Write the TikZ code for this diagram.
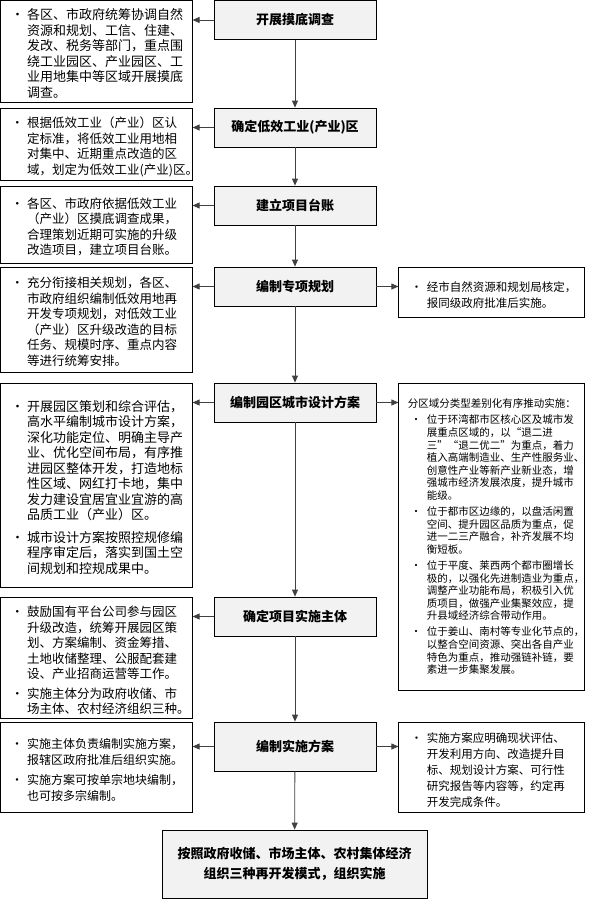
\documentclass[tikz,border=0pt]{standalone}
\usepackage{fontspec}
\setmainfont{Noto Sans CJK SC}
\usepackage{enumitem}
\setlist[itemize]{label=\hspace*{3pt}\textbullet, align=left, leftmargin=19pt,
  labelwidth=19pt, labelsep=0pt, rightmargin=-10pt, nosep, itemsep=4pt}
\usetikzlibrary{arrows.meta, positioning}

\begin{document}
\begin{tikzpicture}[x=1pt, y=-1pt,
stage/.style = {draw, line width=0.8pt, fill=black!5, minimum width=162pt, minimum height=39pt,
                align=center, font=\fontsize{13}{15}\selectfont\bfseries},
result/.style = {stage, minimum width=265pt, minimum height=68pt,
                font=\fontsize{13}{20}\selectfont\bfseries},
note/.style = {draw, line width=0.8pt, text width=176pt, inner xsep=8pt, inner ysep=4pt,
               font=\fontsize{12.5}{15.5}\selectfont},
big/.style = {font=\fontsize{13}{15.5}\selectfont},
rnote/.style = {note, text width=168pt, inner xsep=9pt, font=\fontsize{11.5}{16}\selectfont},
arr/.style = {draw=black!75, line width=0.8pt, -{Triangle[length=7pt, width=6pt]}}
                        ]
\useasboundingbox (0,0) rectangle (594,899);
% main column
\node (c1) [stage] at (295,20)    {开展摸底调查};
\node (c2) [stage] at (295,127.5) {确定低效工业(产业)区};
\node (c3) [stage] at (295,205.5) {建立项目台账};
\node (c4) [stage] at (295,286.5) {编制专项规划};
\node (c5) [stage] at (295,402.5) {编制园区城市设计方案};
\node (c6) [stage] at (295,616.5) {确定项目实施主体};
\node (c7) [stage, minimum height=49pt] at (295,746.5) {编制实施方案};
\node (res) [result] at (294.5,864) {按照政府收储、市场主体、农村集体经济\\组织三种再开发模式，组织实施};
%
\node (l1) [note, big, minimum height=100pt, left=21pt of c1.north west, anchor=north east]
  {\begin{itemize}\item 各区、市政府统筹协调自然\\资源和规划、工信、住建、\\发改、税务等部门，重点围\\绕工业园区、产业园区、工\\业用地集中等区域开展摸底\\调查。\end{itemize}};
\node (l2) [note, minimum height=71pt, left=21pt of c2.north west, anchor=north east]
  {\begin{itemize}\item 根据低效工业（产业）区认\\定标准，将低效工业用地相\\对集中、近期重点改造的区\\域，划定为低效工业(产业)区。\end{itemize}};
\node (l3) [note, minimum height=77pt, left=21pt of c3.north west, anchor=north east]
  {\begin{itemize}\item 各区、市政府依据低效工业\\（产业）区摸底调查成果，\\合理策划近期可实施的升级\\改造项目，建立项目台账。\end{itemize}};
\node (l4) [note, minimum height=105pt, left=21pt of c4.north west, anchor=north east]
  {\begin{itemize}\item 充分衔接相关规划，各区、\\市政府组织编制低效用地再\\开发专项规划，对低效工业\\（产业）区升级改造的目标\\任务、规模时序、重点内容\\等进行统筹安排。\end{itemize}};
\node (l5) [note, big, minimum height=204pt, left=21pt of c5.north west, anchor=north east]
  {\begin{itemize}[itemsep=7pt]
   \item 开展园区策划和综合评估，\\高水平编制城市设计方案，\\深化功能定位、明确主导产\\业、优化空间布局，有序推\\进园区整体开发，打造地标\\性区域、网红打卡地，集中\\发力建设宜居宜业宜游的高\\品质工业（产业）区。
   \item 城市设计方案按照控规修编\\程序审定后，落实到国土空\\间规划和控规成果中。\end{itemize}};
\node (l6) [note, minimum height=116pt, left=21pt of c6.north west, anchor=north east]
  {\begin{itemize}
   \item 鼓励国有平台公司参与园区\\升级改造，统筹开展园区策\\划、方案编制、资金筹措、\\土地收储整理、公服配套建\\设、产业招商运营等工作。
   \item 实施主体分为政府收储、市\\场主体、农村经济组织三种。\end{itemize}};
\node (l7) [note, minimum height=90pt, font=\fontsize{12}{16}\selectfont,
            left=21pt of c7.north west, anchor=north east]
  {\begin{itemize}
   \item 实施主体负责编制实施方案，\\报辖区政府批准后组织实施。
   \item 实施方案可按单宗地块编制，\\也可按多宗编制。\end{itemize}};
%
\node (r4) [rnote, minimum height=50pt, right=22pt of c4.north east, anchor=north west]
  {\begin{itemize}\item 经市自然资源和规划局核定，\\报同级政府批准后实施。\end{itemize}};
\node (r5) [rnote, minimum height=307pt, font=\fontsize{10.5}{12.6}\selectfont,
            right=22pt of c5.north east, anchor=north west]
  {分区域分类型差别化有序推动实施：
   \begin{itemize}[topsep=4pt, itemsep=3.5pt]
   \item 位于环湾都市区核心区及城市发\\展重点区域的，以“退二进\\三”“退二优二”为重点，着力\\植入高端制造业、生产性服务业、\\创意性产业等新产业新业态，增\\强城市经济发展浓度，提升城市\\能级。
   \item 位于都市区边缘的，以盘活闲置\\空间、提升园区品质为重点，促\\进一二三产融合，补齐发展不均\\衡短板。
   \item 位于平度、莱西两个都市圈增长\\极的，以强化先进制造业为重点，\\调整产业功能布局，积极引入优\\质项目，做强产业集聚效应，提\\升县域经济综合带动作用。
   \item 位于姜山、南村等专业化节点的，\\以整合空间资源、突出各自产业\\特色为重点，推动强链补链，要\\素进一步集聚发展。\end{itemize}};
\node (r7) [rnote, minimum height=90pt, right=22pt of c7.north east, anchor=north west]
  {\begin{itemize}\item 实施方案应明确现状评估、\\开发利用方向、改造提升目\\标、规划设计方案、可行性\\研究报告等内容等，约定再\\开发完成条件。\end{itemize}};
% arrows
\draw[arr] (c1) -- (c2);
\draw[arr] (c2) -- (c3);
\draw[arr] (c3) -- (c4);
\draw[arr] (c4) -- (c5);
\draw[arr] (c5) -- (c6);
\draw[arr] (c6) -- (c7);
\draw[arr] (c7) -- (res);
%
\draw[arr] (c1.west) -- (c1.west -| l1.east);
\draw[arr] (c2.west) -- (c2.west -| l2.east);
\draw[arr] (c3.west) -- (c3.west -| l3.east);
\draw[arr] (c4.west) -- (c4.west -| l4.east);
\draw[arr] (c5.west) -- (c5.west -| l5.east);
\draw[arr] (c6.west) -- (c6.west -| l6.east);
\draw[arr] (c7.west) -- (c7.west -| l7.east);
\draw[arr] (c4.east) -- (c4.east -| r4.west);
\draw[arr] (c5.east) -- (c5.east -| r5.west);
\draw[arr] (c7.east) -- (c7.east -| r7.west);
    \end{tikzpicture}
\end{document}
